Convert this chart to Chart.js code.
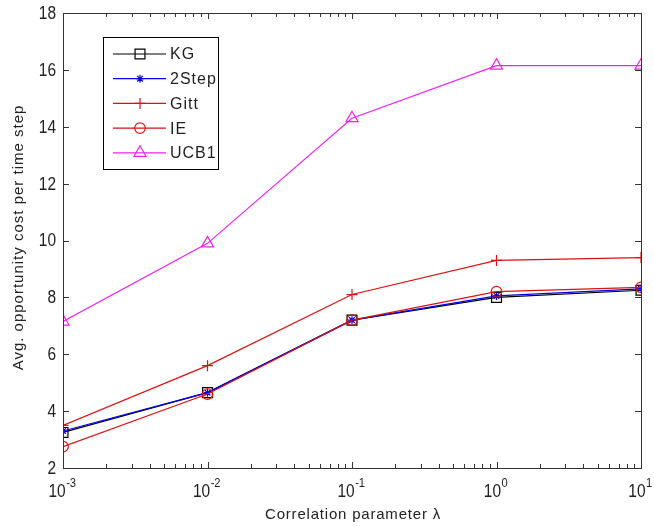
<!DOCTYPE html>
<html><head><meta charset="utf-8">
<script src="https://cdn.jsdelivr.net/npm/chart.js@4/dist/chart.umd.min.js"></script>
<style>html,body{margin:0;padding:0;background:#fff}#wrap{width:654px;height:527px}</style>
</head><body><div id="wrap"><canvas id="c" width="654" height="527"></canvas></div>
<script>
const lambdas = [0.001, 0.01, 0.1, 1, 10];
const seriesNames = ['KG', '2Step', 'Gitt', 'IE', 'UCB1'];
const kg    = [3.25, 4.65, 7.2, 8.0, 8.25];
const twoStep = [3.3, 4.65, 7.2, 8.05, 8.3];
const gitt  = [3.5, 5.6, 8.1, 9.3, 9.4];
const ie    = [2.75, 4.6, 7.2, 8.2, 8.35];
const ucb1  = [7.15, 9.9, 14.3, 16.15, 16.15];
const xTickExps = [-3, -2, -1, 0, 1];
const yTicks = [2, 4, 6, 8, 10, 12, 14, 16, 18];
const xTitle = 'Correlation parameter λ';
const yTitle = 'Avg. opportunity cost per time step';

const styles = [
  {color:'#000000', pointStyle:'rect', radius:7},
  {color:'#0000ee', pointStyle:'star', radius:4},
  {color:'#dd1111', pointStyle:'cross', radius:5.5},
  {color:'#dd1111', pointStyle:'circle', radius:5.3},
  {color:'#ee22ee', pointStyle:'triangle', radius:7}
];
const allData = [kg, twoStep, gitt, ie, ucb1];

const datasets = allData.map((arr, i) => ({
  label: seriesNames[i],
  data: arr.map((v, j) => ({x: lambdas[j], y: v})),
  borderColor: styles[i].color,
  backgroundColor: 'rgba(0,0,0,0)',
  borderWidth: 1.2,
  pointStyle: styles[i].pointStyle,
  pointRadius: styles[i].radius,
  pointBorderColor: styles[i].color,
  pointBackgroundColor: 'rgba(0,0,0,0)',
  pointBorderWidth: 1.2,
  tension: 0,
  order: 5 - i
}));

const FONT = '"Liberation Sans", Arial, sans-serif';
const TXT = '#222';

function condensedText(ctx, txt, x, y, sx) {
  ctx.save();
  ctx.translate(x, y);
  ctx.scale(sx, 1);
  ctx.fillText(txt, 0, 0);
  ctx.restore();
}

const decor = {
  id: 'decor',
  afterDraw(chart) {
    const ctx = chart.ctx;
    const a = chart.chartArea;
    const xs = chart.scales.x, ys = chart.scales.y;
    ctx.save();
    ctx.strokeStyle = '#333';
    ctx.lineWidth = 1;
    ctx.strokeRect(Math.round(a.left)+0.5, Math.round(a.top)+0.5, Math.round(a.right-a.left), Math.round(a.bottom-a.top));
    ctx.beginPath();
    for (let e = -3; e <= 1; e++) {
      for (let m = 1; m <= 9; m++) {
        const v = m * Math.pow(10, e);
        if (v > 10.0001) continue;
        const px = Math.round(xs.getPixelForValue(v)) + 0.5;
        const len = (m === 1) ? 6 : 4;
        ctx.moveTo(px, a.bottom); ctx.lineTo(px, a.bottom - len);
        ctx.moveTo(px, a.top); ctx.lineTo(px, a.top + len);
      }
    }
    yTicks.forEach(v => {
      const py = Math.round(ys.getPixelForValue(v)) + 0.5;
      ctx.moveTo(a.left, py); ctx.lineTo(a.left + 6, py);
      ctx.moveTo(a.right, py); ctx.lineTo(a.right - 6, py);
    });
    ctx.stroke();
    const SX = 0.86;
    ctx.fillStyle = TXT;
    ctx.font = '18px ' + FONT;
    ctx.textAlign = 'right';
    ctx.textBaseline = 'middle';
    yTicks.forEach(v => {
      condensedText(ctx, String(v), a.left - 7, ys.getPixelForValue(v) + 1, SX);
    });
    ctx.textBaseline = 'alphabetic';
    ctx.textAlign = 'left';
    xTickExps.forEach(e => {
      const px = xs.getPixelForValue(Math.pow(10, e));
      ctx.font = '18px ' + FONT;
      const bw = ctx.measureText('10').width * SX;
      ctx.font = '13px ' + FONT;
      const sup = String(e);
      const sw = ctx.measureText(sup).width * SX;
      const x0 = px - (bw + sw) / 2 - 1;
      ctx.font = '18px ' + FONT;
      condensedText(ctx, '10', x0, a.bottom + 29, SX);
      ctx.font = '13px ' + FONT;
      condensedText(ctx, sup, x0 + bw + 0.5, a.bottom + 19, SX);
    });
    ctx.font = '15px ' + FONT;
    ctx.textAlign = 'center';
    ctx.letterSpacing = '0.8px';
    ctx.fillText(xTitle, (a.left + a.right) / 2 + 1, a.bottom + 51);
    ctx.letterSpacing = '1px';
    ctx.save();
    ctx.translate(23, (a.top + a.bottom) / 2 - 3);
    ctx.rotate(-Math.PI / 2);
    ctx.fillText(yTitle, 0, 0);
    ctx.restore();
    const lx = 103, ly = 37, lw = 115, lh = 132;
    ctx.fillStyle = '#fff';
    ctx.fillRect(lx, ly, lw, lh);
    ctx.strokeStyle = '#000';
    ctx.lineWidth = 1;
    ctx.strokeRect(lx + 0.5, ly + 0.5, lw, lh);
    seriesNames.forEach((name, i) => {
      const y = 54 + i * 24.7;
      const st = styles[i];
      ctx.strokeStyle = st.color;
      ctx.lineWidth = 1.2;
      ctx.beginPath();
      ctx.moveTo(113, y); ctx.lineTo(166, y);
      ctx.stroke();
      ctx.fillStyle = 'rgba(0,0,0,0)';
      Chart.helpers.drawPoint(ctx, {pointStyle: st.pointStyle, radius: st.radius, borderWidth: 1.2, rotation: 0}, 140, y);
      ctx.fillStyle = TXT;
      ctx.font = '16px ' + FONT;
      ctx.letterSpacing = '1px';
      ctx.textAlign = 'left';
      ctx.textBaseline = 'middle';
      ctx.fillText(name, 170, y + 1);
    });
    ctx.restore();
  }
};

new Chart(document.getElementById('c'), {
  type: 'line',
  data: { datasets },
  options: {
    responsive: false,
    animation: false,
    devicePixelRatio: 1,
    layout: { padding: { left: 63, right: 13, top: 13, bottom: 59 } },
    plugins: { legend: { display: false }, tooltip: { enabled: false } },
    scales: {
      x: { type: 'logarithmic', min: 0.001, max: 10, ticks: { display: false }, grid: { display: false, drawTicks: false }, border: { display: false } },
      y: { type: 'linear', min: 2, max: 18, ticks: { display: false }, grid: { display: false, drawTicks: false }, border: { display: false } }
    }
  },
  plugins: [decor]
});
</script>
</body></html>
